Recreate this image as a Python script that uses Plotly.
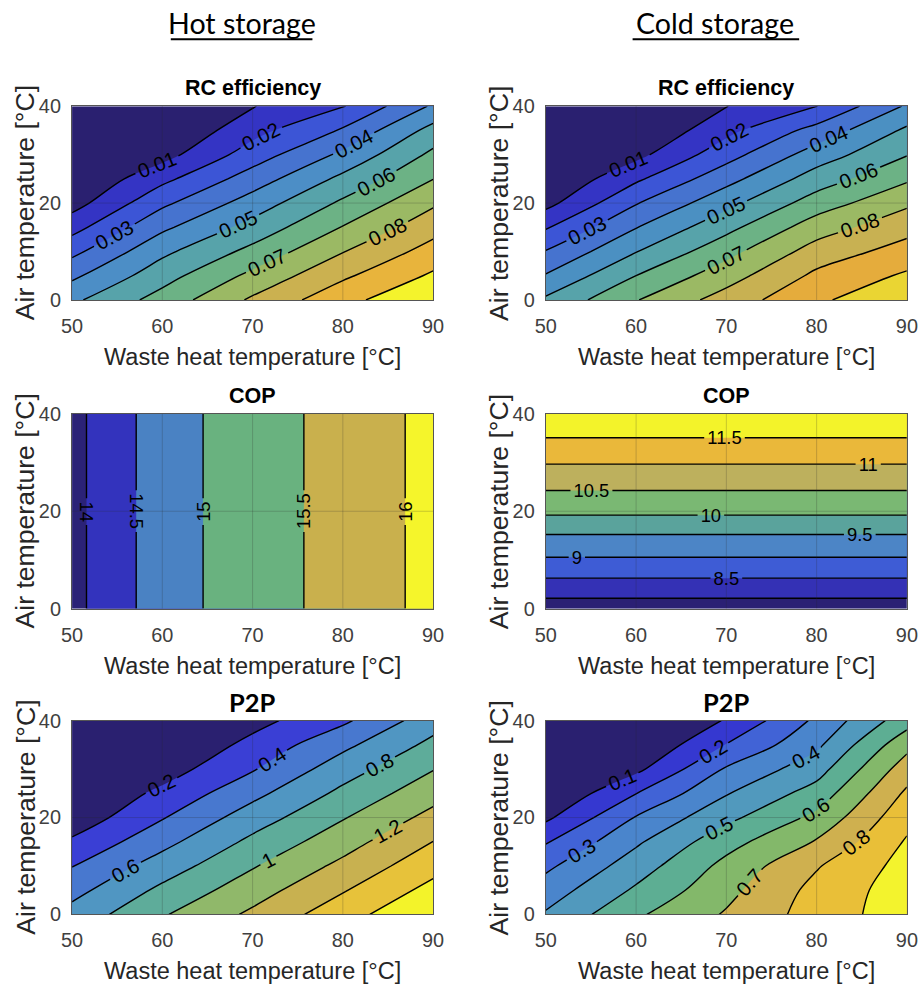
import plotly.graph_objects as go

# ---------------------------------------------------------------------------
# Grid coordinates (°C)
# ---------------------------------------------------------------------------
waste_heat_temp = [50, 60, 70, 80, 90]
air_temp = [0, 5, 10, 15, 20, 25, 30, 35, 40]

# RC efficiency [-]; one row per air temperature, one column per waste heat temperature
rc_eff_hot = [
    [0.048, 0.064, 0.0816, 0.0969, 0.109],
    [0.0379, 0.056, 0.0725, 0.0883, 0.1015],
    [0.0273, 0.0477, 0.0629, 0.0796, 0.0939],
    [0.0163, 0.038, 0.0536, 0.0705, 0.0863],
    [0.0058, 0.0279, 0.0445, 0.0618, 0.0784],
    [0.0, 0.0173, 0.0348, 0.0525, 0.0698],
    [0.0, 0.0062, 0.0248, 0.0421, 0.0622],
    [0.0, 0.0, 0.0165, 0.0311, 0.0535],
    [0.0, 0.0, 0.0096, 0.0193, 0.0414],
]
rc_eff_cold = [
    [0.0517, 0.0695, 0.0843, 0.0985, 0.107],
    [0.0408, 0.06, 0.0757, 0.0922, 0.1015],
    [0.0305, 0.0496, 0.0667, 0.0843, 0.0941],
    [0.019, 0.0396, 0.057, 0.0752, 0.0865],
    [0.0068, 0.0293, 0.0469, 0.0648, 0.0782],
    [0.0, 0.0182, 0.0365, 0.0547, 0.0685],
    [0.0, 0.0071, 0.026, 0.0447, 0.0595],
    [0.0, 0.0, 0.0171, 0.0336, 0.0518],
    [0.0, 0.0, 0.0098, 0.0198, 0.0412],
]

# COP: hot storage depends on waste heat temperature only,
# cold storage on air temperature only
cop_waste_heat_temp = [50, 55, 60, 65, 70, 75, 80, 85, 90]
cop_hot = [13.84, 14.34, 14.72, 15.03, 15.25, 15.47, 15.69, 15.92, 16.13]
cop_cold = [7.74, 8.35, 8.94, 9.47, 10.10, 10.57, 11.03, 11.49, 11.95]

# Power-to-power ratio [-]
p2p_hot = [
    [0.672, 0.981, 1.238, 1.519, 1.79],
    [0.533, 0.845, 1.111, 1.384, 1.663],
    [0.394, 0.694, 0.984, 1.249, 1.532],
    [0.232, 0.538, 0.847, 1.117, 1.402],
    [0.071, 0.386, 0.70, 0.986, 1.261],
    [0.0, 0.247, 0.543, 0.849, 1.125],
    [0.0, 0.106, 0.383, 0.707, 0.992],
    [0.0, 0.0, 0.258, 0.551, 0.853],
    [0.0, 0.0, 0.133, 0.362, 0.714],
]
p2p_cold = [
    [0.411, 0.585, 0.71, 0.843, 0.955],
    [0.348, 0.515, 0.671, 0.83, 0.95],
    [0.279, 0.451, 0.629, 0.792, 0.935],
    [0.191, 0.384, 0.563, 0.708, 0.91],
    [0.08, 0.306, 0.474, 0.625, 0.869],
    [0.0, 0.198, 0.393, 0.542, 0.817],
    [0.0, 0.076, 0.311, 0.458, 0.751],
    [0.0, 0.0, 0.204, 0.379, 0.669],
    [0.0, 0.0, 0.106, 0.32, 0.557],
]

x_ticks = [50, 60, 70, 80, 90]
y_ticks = [0, 20, 40]

# ---------------------------------------------------------------------------
# Band colours (lowest band first)
# ---------------------------------------------------------------------------
rc_hot_colors = ["#2a2070", "#3434c4", "#3c55d6", "#4673cf", "#4c8ec6", "#57a3aa",
                 "#6cb285", "#9bb964", "#cbb150", "#e8b43c", "#f4f32c"]
rc_cold_colors = ["#2a2070", "#3434c4", "#3c55d6", "#4673cf", "#4b90c2", "#57a3aa",
                  "#6cb285", "#9bb964", "#c8b152", "#e5ac3c", "#ead533"]
cop_hot_colors = ["#2b2277", "#3333bd", "#4a82c3", "#69b27f", "#c9b04d", "#f5f52b"]
cop_cold_colors = ["#2a2074", "#3431b5", "#3e5cd5", "#4c85c6", "#5aa39c",
                   "#7ab873", "#bdb05d", "#eab83a", "#f3f32a"]
p2p_hot_colors = ["#2a2070", "#3a3fd5", "#4878cf", "#5096c2", "#5eac9a",
                  "#90b86a", "#c8b150", "#e7c23a", "#f3f32a"]
p2p_cold_colors = ["#2a2070", "#3538d0", "#4163d6", "#4a85cc", "#5199bd",
                   "#5dae93", "#83b86a", "#cfb04f", "#e9bf38", "#f3f32d"]


def band_scale(colors):
    n = len(colors)
    return [[i / (n - 1), c] for i, c in enumerate(colors)]


# ---------------------------------------------------------------------------
# Layout geometry. Positions below are in output-image pixels (920 x 989).
# The page view is rendered slightly reduced (factor S) and the figure sits
# inside the page margin, so image pixels are converted to figure pixels.
# ---------------------------------------------------------------------------
S = 920 / 940
BODY = 10
W, H = 924, 995
col_px = [(71, 433), (546, 908)]
row_px = [(105, 299), (413, 608), (720, 914)]


def fs(size):
    return round(size / S, 1)


def px_x(p):
    return (p / S - BODY) / W


def px_y(p):
    return 1 - (p / S - BODY) / H


panels = [
    dict(row=0, col=0, title="RC efficiency", x=waste_heat_temp, y=air_temp, z=rc_eff_hot,
         start=0.01, end=0.1, size=0.01, colors=rc_hot_colors, label_size=20),
    dict(row=0, col=1, title="RC efficiency", x=waste_heat_temp, y=air_temp, z=rc_eff_cold,
         start=0.01, end=0.1, size=0.01, colors=rc_cold_colors, label_size=20),
    dict(row=1, col=0, title="COP", x=cop_waste_heat_temp, y=[0, 40], z=[cop_hot, cop_hot],
         start=14, end=16, size=0.5, colors=cop_hot_colors, label_size=18),
    dict(row=1, col=1, title="COP", x=[50, 90], y=air_temp, z=[[v, v] for v in cop_cold],
         start=8, end=11.5, size=0.5, colors=cop_cold_colors, label_size=18),
    dict(row=2, col=0, title="P2P", x=waste_heat_temp, y=air_temp, z=p2p_hot,
         start=0.2, end=1.6, size=0.2, colors=p2p_hot_colors, label_size=20),
    dict(row=2, col=1, title="P2P", x=waste_heat_temp, y=air_temp, z=p2p_cold,
         start=0.1, end=0.9, size=0.1, colors=p2p_cold_colors, label_size=20),
]

fig = go.Figure()
annotations = []
shapes = []
axis_font = "Liberation Sans, Arial, sans-serif"

for i, p in enumerate(panels, start=1):
    xa = "x" if i == 1 else f"x{i}"
    ya = "y" if i == 1 else f"y{i}"
    x0, x1 = col_px[p["col"]]
    y0, y1 = row_px[p["row"]]

    fig.add_trace(go.Contour(
        x=p["x"], y=p["y"], z=p["z"],
        autocontour=False,
        contours=dict(start=p["start"], end=p["end"], size=p["size"],
                      coloring="fill", showlabels=True, labelformat="~g",
                      labelfont=dict(family=axis_font, size=fs(p["label_size"]), color="black")),
        colorscale=band_scale(p["colors"]),
        showscale=False,
        line=dict(color="black", width=1.4),
        hoverinfo="skip",
        xaxis=xa, yaxis=ya,
    ))

    fig.layout[f"xaxis{'' if i == 1 else i}"] = dict(
        domain=[px_x(x0), px_x(x1)], anchor=ya, range=[50, 90],
        tickvals=x_ticks, ticks="", showgrid=False, zeroline=False,
        showline=True, mirror=True, linecolor="#555555", linewidth=1.2,
        tickfont=dict(family=axis_font, size=fs(19.5), color="#404040"),
        ticklabelstandoff=8,
    )
    fig.layout[f"yaxis{'' if i == 1 else i}"] = dict(
        domain=[px_y(y1), px_y(y0)], anchor=xa, range=[0, 40],
        tickvals=y_ticks, ticks="", showgrid=False, zeroline=False,
        showline=True, mirror=True, linecolor="#555555", linewidth=1.2,
        tickfont=dict(family=axis_font, size=fs(19.5), color="#404040"),
        ticklabelstandoff=6,
    )

    # faint grid drawn over the filled contours
    for gx in x_ticks[1:-1]:
        shapes.append(dict(type="line", xref=xa, yref=ya, x0=gx, x1=gx, y0=0, y1=40,
                           line=dict(color="rgba(40,40,40,0.22)", width=1), layer="above"))
    for gy in y_ticks[1:-1]:
        shapes.append(dict(type="line", xref=xa, yref=ya, x0=50, x1=90, y0=gy, y1=gy,
                           line=dict(color="rgba(40,40,40,0.22)", width=1), layer="above"))

    cx = (x0 + x1) / 2
    # panel title
    if p["title"] == "P2P":
        tfont = dict(family="Lato, sans-serif", size=fs(25), color="black")
        ty = y0 - 19
    else:
        tfont = dict(family=axis_font, size=fs(21), color="black")
        ty = y0 - 18
    annotations.append(dict(text=f"<b>{p['title']}</b>", x=px_x(cx), y=px_y(ty),
                            xref="paper", yref="paper", xanchor="center", yanchor="middle",
                            showarrow=False, font=tfont))
    # x axis title
    annotations.append(dict(text="Waste heat temperature [°C]", x=px_x(cx), y=px_y(y1 + 57),
                            xref="paper", yref="paper", xanchor="center", yanchor="middle",
                            showarrow=False,
                            font=dict(family=axis_font, size=fs(23), color="#262626")))
    # y axis title
    annotations.append(dict(text="Air temperature [°C]", x=px_x(x0 - 47), y=px_y((y0 + y1) / 2),
                            xref="paper", yref="paper", xanchor="center", yanchor="middle",
                            textangle=-90, showarrow=False,
                            font=dict(family=axis_font, size=fs(26), color="#262626")))

# column headers with underline
headers = [("Hot storage", 241, 170, 312), ("Cold storage", 716, 633, 800)]
for text, cx, ux0, ux1 in headers:
    annotations.append(dict(text=text, x=px_x(cx), y=px_y(22), xref="paper", yref="paper",
                            xanchor="center", yanchor="middle", showarrow=False,
                            font=dict(family="Lato, sans-serif", size=fs(28), color="black")))
    shapes.append(dict(type="line", xref="paper", yref="paper",
                       x0=px_x(ux0), x1=px_x(ux1), y0=px_y(38), y1=px_y(38),
                       line=dict(color="black", width=2)))

fig.update_layout(
    width=W, height=H,
    margin=dict(l=0, r=0, t=0, b=0),
    paper_bgcolor="white", plot_bgcolor="white",
    showlegend=False,
    annotations=annotations,
    shapes=shapes,
)

fig.write_html("out.html")
